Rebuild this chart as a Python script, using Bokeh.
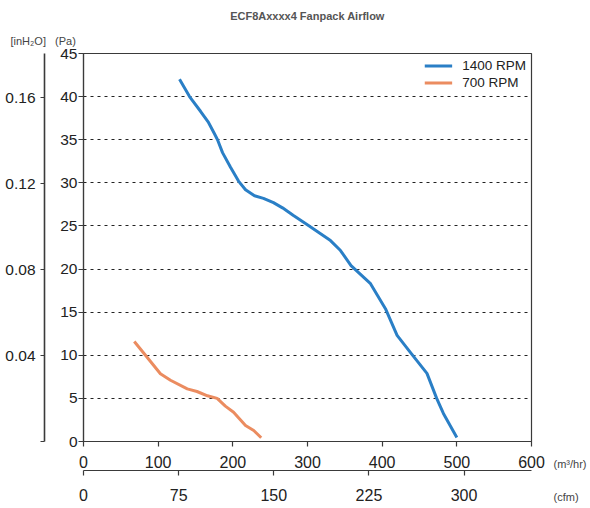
from bokeh.plotting import figure
from bokeh.models import LinearAxis, Range1d, FixedTicker, Label, Legend, LegendItem, Grid, Title
from bokeh.embed import file_html
from bokeh.resources import INLINE

# ---- data ----
rpm1400_flow = [128.6, 142, 156.7, 167.4, 175.4, 179.5, 186.2, 196.9, 207.6, 217, 229, 241, 254.4,
                266.5, 281.2, 301.3, 330.8, 344.2, 358.3, 384.4, 404.4, 420, 438, 460, 473, 482, 500]
rpm1400_pa = [42.0, 40.0, 38.3, 37.0, 35.7, 35.0, 33.5, 31.8, 30.2, 29.2, 28.5, 28.2, 27.7,
              27.1, 26.2, 25.05, 23.3, 22.15, 20.4, 18.3, 15.4, 12.3, 10.3, 7.9, 5.0, 3.25, 0.46]
rpm700_flow = [68, 83, 103, 116.5, 139, 152, 166, 179, 190, 201, 217, 228, 238]
rpm700_pa = [11.6, 10.0, 7.85, 7.1, 6.1, 5.8, 5.3, 5.0, 4.1, 3.4, 1.86, 1.28, 0.43]

pa_ticks = [0, 5, 10, 15, 20, 25, 30, 35, 40, 45]
inh2o_ticks = [0, 0.04, 0.08, 0.12, 0.16]
m3hr_ticks = [0, 100, 200, 300, 400, 500, 600]
cfm_ticks = [0, 75, 150, 225, 300]

PA_MAX = 45
FLOW_MAX = 600
PA_PER_INH2O = 249.0889
CFM_PER_M3HR = 0.588578

FONT = "Liberation Sans"
TXT = "#222222"
AX = "#3a3a3a"

p = figure(frame_width=448, frame_height=388, output_backend="svg", toolbar_location=None,
           x_range=Range1d(0, FLOW_MAX), y_range=Range1d(0, PA_MAX),
           min_border_top=53, min_border_right=57, min_border_left=83, min_border_bottom=10,
           x_axis_type=None, y_axis_type=None)
p.extra_y_ranges = {"inh2o": Range1d(0, PA_MAX / PA_PER_INH2O)}
p.extra_x_ranges = {"cfm": Range1d(0, FLOW_MAX * CFM_PER_M3HR)}

p.title.text = "ECF8Axxxx4 Fanpack Airflow"
p.title.align = "center"
p.title.offset = 8
p.title.standoff = 7
p.title.text_font = FONT
p.title.text_font_size = "11px"
p.title.text_font_style = "bold"
p.title.text_color = "#555555"

header = Title(text="[inH₂O]\u00a0\u00a0\u00a0(Pa)", align="left", offset=-73,
               text_font=FONT, text_font_size="11px", text_font_style="normal",
               text_color="#444444", standoff=14)
p.add_layout(header, "above")

p.outline_line_color = AX
p.outline_line_width = 1.2
p.outline_line_alpha = 1
p.background_fill_color = "white"
p.border_fill_color = "white"


def style(ax, size="15.5px"):
    ax.axis_line_color = AX
    ax.axis_line_width = 1.2
    ax.major_tick_line_color = AX
    ax.major_tick_line_width = 1.2
    ax.major_tick_in = 0
    ax.major_tick_out = 5
    ax.minor_tick_line_color = None
    ax.major_label_text_font = FONT
    ax.major_label_text_font_size = size
    ax.major_label_text_color = TXT


# Pa axis (inner left)
pa_axis = LinearAxis(ticker=FixedTicker(ticks=pa_ticks))
style(pa_axis)
pa_axis.major_label_standoff = 1
pa_axis.axis_label = "x"
pa_axis.axis_label_text_alpha = 0
pa_axis.axis_label_text_font_size = "9px"
pa_axis.axis_label_standoff = 0
p.add_layout(pa_axis, "left")

# inH2O axis (outer left)
in_axis = LinearAxis(y_range_name="inh2o", ticker=FixedTicker(ticks=inh2o_ticks))
style(in_axis)
in_axis.major_tick_out = 4
in_axis.major_label_standoff = 5
in_axis.axis_line_width = 1.6
in_axis.major_label_overrides = {0: ""}
p.add_layout(in_axis, "left")

# m3/hr axis (inner bottom)
x_axis = LinearAxis(ticker=FixedTicker(ticks=m3hr_ticks))
style(x_axis, "16px")
x_axis.major_label_standoff = 9
p.add_layout(x_axis, "below")

# cfm axis (outer bottom)
cfm_axis = LinearAxis(x_range_name="cfm", ticker=FixedTicker(ticks=cfm_ticks))
style(cfm_axis, "16px")
cfm_axis.major_label_standoff = 13
p.add_layout(cfm_axis, "below")

# grid
ygrid = Grid(dimension=1, ticker=FixedTicker(ticks=pa_ticks[1:-1]),
             grid_line_color="#222222", grid_line_dash="3 4", grid_line_width=1)
p.add_layout(ygrid, "center")

r1 = p.line(rpm1400_flow, rpm1400_pa, line_color="#2a7fc6", line_width=3, line_join="round")
r2 = p.line(rpm700_flow, rpm700_pa, line_color="#eb8c60", line_width=3, line_join="round")

legend = Legend(items=[LegendItem(label="1400 RPM", renderers=[r1]),
                       LegendItem(label="700 RPM", renderers=[r2])],
                location="top_right")
legend.border_line_color = None
legend.background_fill_alpha = 0
legend.label_text_font = FONT
legend.label_text_font_size = "13.5px"
legend.label_text_color = TXT
legend.glyph_width = 28
legend.glyph_height = 15
legend.label_height = 15
legend.label_standoff = 10
legend.spacing = 2
legend.margin = 5
legend.padding = 8
p.add_layout(legend)

# unit captions, in a side panel on the right (screen units relative to that panel)
units = Label(x=22, y=-16, x_units="screen", y_units="screen", text="(m³/hr)\n\n\n(cfm)",
              text_font=FONT, text_font_size="11px", text_line_height=0.93,
              text_color="#444444", text_baseline="top", text_align="left")
p.add_layout(units, "right")

open("out.html", "w").write(file_html(p, INLINE))
